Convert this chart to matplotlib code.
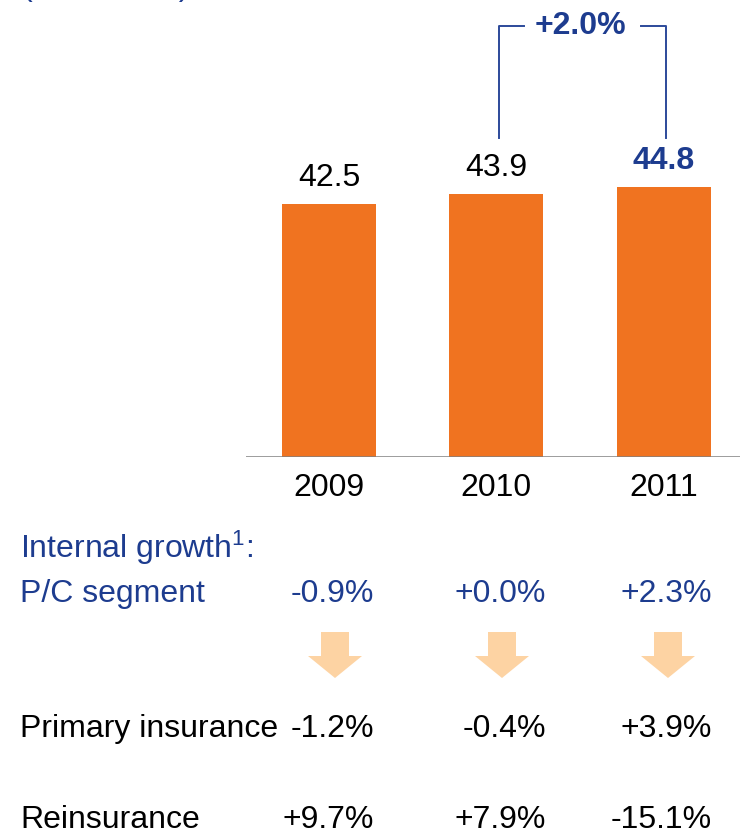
import matplotlib.pyplot as plt
import matplotlib.patches as mpatches

plt.rcParams['font.family'] = ['Liberation Sans', 'DejaVu Sans']
plt.rcParams['mathtext.fontset'] = 'custom'
plt.rcParams['mathtext.rm'] = 'Liberation Sans'

years = ['2009', '2010', '2011']
premiums = [42.5, 43.9, 44.8]
growth_label = '+2.0%'
pc_segment = ['-0.9%', '+0.0%', '+2.3%']
primary = ['-1.2%', '-0.4%', '+3.9%']
reinsurance = ['+9.7%', '+7.9%', '-15.1%']

orange = '#f07320'
blue = '#1d3c8f'
arrow_col = '#fdd3a3'
fs = 23

W, H = 740, 834
fig = plt.figure(figsize=(W / 100, H / 100), dpi=100)


def fx(x):
    return x / W


def fy(y):
    return 1 - y / H


# bar axes placed in pixel terms: x 246..740, baseline at y=457
ax = fig.add_axes([fx(246), fy(457), fx(740 - 246), 457 / H])
ax.set_xlim(-0.496, 2.457)
ax.set_ylim(8.3, 70.1)
ax.axis('off')

xs = range(len(years))
ax.bar(xs, premiums, width=0.562, color=orange, bottom=0, zorder=2)
ax.axhline(8.3, color='#808080', lw=1.8, zorder=3)

for i, v in enumerate(premiums):
    last = i == len(premiums) - 1
    ax.annotate(f'{v:.1f}', (i, v), xytext=(0, 13), textcoords='offset points',
                ha='center', va='baseline', fontsize=fs,
                color=blue if last else 'black',
                fontweight='bold' if last else 'normal')
    ax.annotate(years[i], (i, 0), xycoords=('data', 'axes fraction'),
                xytext=(0, -28), textcoords='offset points',
                ha='center', va='baseline', fontsize=fs, color='black')

# growth bracket between 2010 and 2011
top = max(premiums) + 21.8
low = max(premiums) + 6.7
l, r = 1 + 0.016, 2 + 0.015
mid = (l + r) / 2
ax.plot([l, l, mid - 0.35], [low, top, top], color='#2c4a9a', lw=1.4, clip_on=False)
ax.plot([mid + 0.35, r, r], [top, top, low], color='#2c4a9a', lw=1.4, clip_on=False)
ax.text(mid - 0.015, top, growth_label, ha='center', va='center', fontsize=fs,
        color=blue, fontweight='bold')

# clipped unit line at the very top
fig.text(fx(22), fy(-5), '(in EUR bn)', fontsize=fs, color=blue, va='baseline')

# text table below
fig.text(fx(20), fy(558), r'Internal growth$\mathregular{^1}$:', fontsize=fs, color=blue,
         va='baseline')
fig.text(fx(20), fy(602), 'P/C segment', fontsize=fs, color=blue, va='baseline')
fig.text(fx(20), fy(737), 'Primary insurance', fontsize=fs, color='black', va='baseline')
fig.text(fx(20), fy(828), 'Reinsurance', fontsize=fs, color='black', va='baseline')

right_edges = [374, 546, 712]
for i in xs:
    fig.text(fx(right_edges[i]), fy(602), pc_segment[i], fontsize=fs, color=blue,
             ha='right', va='baseline')
    fig.text(fx(right_edges[i]), fy(737), primary[i], fontsize=fs, color='black',
             ha='right', va='baseline')
    fig.text(fx(right_edges[i]), fy(828), reinsurance[i], fontsize=fs, color='black',
             ha='right', va='baseline')

# down arrows
arrow_cx = [335, 502, 668]
for cx in arrow_cx:
    pts = [(cx - 14, 632), (cx + 14, 632), (cx + 14, 656), (cx + 27, 656),
           (cx, 678), (cx - 27, 656), (cx - 14, 656)]
    poly = mpatches.Polygon([(fx(x), fy(y)) for x, y in pts], closed=True,
                            transform=fig.transFigure, color=arrow_col, lw=0)
    fig.patches.append(poly)

fig.savefig('out.png', dpi=100)
